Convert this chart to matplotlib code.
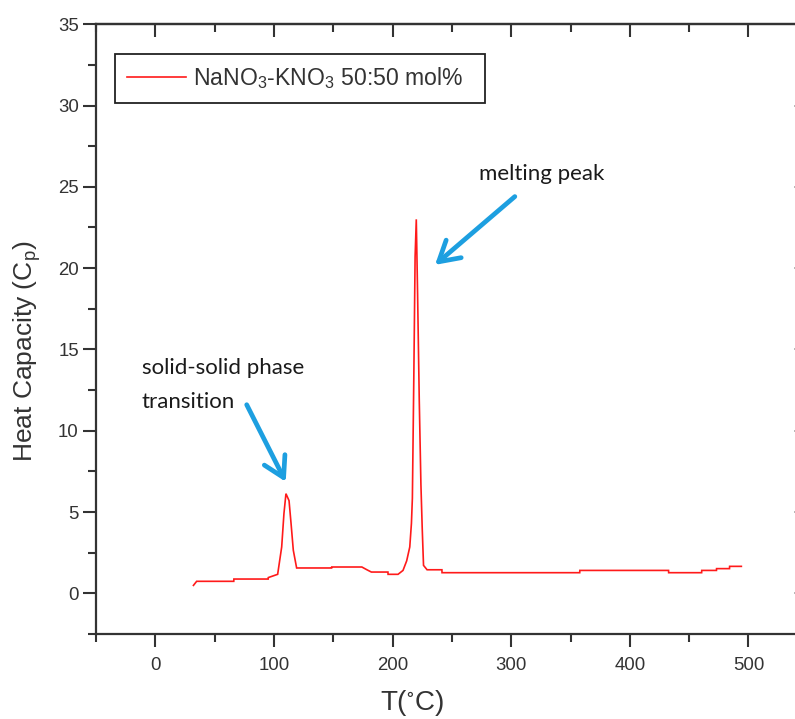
import matplotlib
matplotlib.use("Agg")
import matplotlib.pyplot as plt
from matplotlib.ticker import MultipleLocator

# DSC heat-capacity trace of the equimolar nitrate salt mixture
temperature_c = [32, 34.7, 66, 66.1, 95, 95.1, 103, 106.4, 108.3, 110, 112.6,
                 114.3, 116.2, 119, 148.5, 148.6, 174, 178, 182, 196, 196.1,
                 204.5, 208.7, 211.8, 214.4, 215.8, 216.6, 217.8, 218.9, 219.9,
                 221, 222.4, 223.8, 224.9, 226, 229, 241.5, 241.6, 357.7, 357.8,
                 432.6, 432.7, 460.5, 460.6, 473, 473.1, 484, 484.1, 494]
heat_capacity = [0.49, 0.74, 0.74, 0.88, 0.88, 0.97, 1.17, 2.85, 4.9, 6.13, 5.7,
                 4.3, 2.65, 1.56, 1.56, 1.62, 1.62, 1.46, 1.31, 1.31, 1.17,
                 1.17, 1.41, 2.0, 2.85, 4.3, 5.84, 13.2, 20.7, 23.0,
                 18.4, 11.9, 6.7, 4.0, 1.72, 1.45, 1.45, 1.27, 1.27, 1.41,
                 1.41, 1.27, 1.27, 1.41, 1.41, 1.52, 1.52, 1.66, 1.66]
series_label = r"NaNO$_3$-KNO$_3$ 50:50 mol%"

x_range = (-50, 548)
y_range = (-2.5, 35)

plt.rcParams["font.family"] = ["Liberation Sans", "DejaVu Sans"]
plt.rcParams["mathtext.fontset"] = "custom"
plt.rcParams["mathtext.rm"] = "Liberation Sans"
plt.rcParams["mathtext.it"] = "Liberation Sans:italic"
plt.rcParams["mathtext.default"] = "regular"

W, H = 795, 719
fig = plt.figure(figsize=(W / 100, H / 100), dpi=100)
fig.patch.set_facecolor("white")

ax_l, ax_r, ax_t, ax_b = 96.2, 805.4, 24.2, 634.0
ax_w, ax_h = ax_r - ax_l, ax_b - ax_t
ax = fig.add_axes([ax_l / W, 1 - ax_b / H, ax_w / W, ax_h / H])


def ax_x(px):
    return (px - ax_l) / ax_w


def ax_y(py):
    return (ax_b - py) / ax_h


ax.plot(temperature_c, heat_capacity, color="#ff1a1a", lw=1.2,
        label=series_label, solid_joinstyle="miter")

ax.set_xlim(*x_range)
ax.set_ylim(*y_range)

spine_col = "#333333"
for s in ax.spines.values():
    s.set_color(spine_col)
    s.set_linewidth(1.6)

ax.xaxis.set_major_locator(MultipleLocator(100))
ax.xaxis.set_minor_locator(MultipleLocator(50))
ax.yaxis.set_major_locator(MultipleLocator(5))
ax.yaxis.set_minor_locator(MultipleLocator(2.5))
ax.tick_params(which="both", direction="out", color=spine_col, width=1.5,
               labelcolor="#333333", labelsize=13.4)
ax.tick_params(which="major", length=9.5)
ax.tick_params(which="minor", length=5.5)
ax.tick_params(axis="x", pad=7)
ax.tick_params(axis="y", pad=3)

# inward ticks on the opposite frame edges
top = ax.secondary_xaxis("top")
top.xaxis.set_major_locator(MultipleLocator(100))
top.xaxis.set_minor_locator(MultipleLocator(50))
top.tick_params(which="both", direction="in", color=spine_col, width=1.5,
                labeltop=False)
top.tick_params(which="major", length=9.5)
top.tick_params(which="minor", length=5.5)
top.spines["top"].set_color(spine_col)
top.spines["top"].set_linewidth(1.6)

right = ax.secondary_yaxis("right")
right.yaxis.set_major_locator(MultipleLocator(5))
right.yaxis.set_minor_locator(MultipleLocator(2.5))
right.tick_params(which="both", direction="in", color="#aaaaaa", width=1.2,
                  labelright=False)
right.tick_params(which="major", length=8.2)
right.tick_params(which="minor", length=4)

ax.set_xlabel(r"T($^{\circ}$C)", fontsize=20, color="#333333")
ax.set_ylabel(r"Heat Capacity (C$_p$)", fontsize=19, color="#333333")
ax.xaxis.set_label_coords(ax_x(411.5), ax_y(688))
ax.yaxis.set_label_coords(ax_x(43), ax_y(351))

leg = ax.legend(loc="upper left", fontsize=16.6, frameon=True, fancybox=False,
                handlelength=2.6, handletextpad=0.3, borderpad=0.5,
                mode="expand",
                bbox_to_anchor=(ax_x(115), ax_y(101), ax_x(485) - ax_x(115),
                                ax_y(54) - ax_y(101)),
                borderaxespad=0)
leg.get_frame().set_edgecolor("#222222")
leg.get_frame().set_linewidth(1.3)
leg.get_frame().set_alpha(1)
for t in leg.get_texts():
    t.set_color("#333333")

arrow_blue = "#1d9fe0"
note_font = ["Lato", "DejaVu Sans"]
arrow_props = dict(arrowstyle="->, head_length=0.55, head_width=0.32",
                   color=arrow_blue, lw=3.4, mutation_scale=26,
                   shrinkA=0, shrinkB=0)

ax.annotate("", xy=(235.7, 20.2), xytext=(303, 24.4), arrowprops=arrow_props)
ax.annotate("", xy=(109.8, 6.86), xytext=(76.9, 11.6), arrowprops=arrow_props)

ax.text(272.8, 25.4, "melting peak", family=note_font, fontsize=16,
        color="#1a1a1a", va="baseline", ha="left")
ax.text(-11.5, 13.5, "solid-solid phase", family=note_font, fontsize=16,
        color="#1a1a1a", va="baseline", ha="left")
ax.text(-11.5, 11.4, "transition", family=note_font, fontsize=16,
        color="#1a1a1a", va="baseline", ha="left")

fig.savefig("out.png", dpi=100, facecolor="white")
